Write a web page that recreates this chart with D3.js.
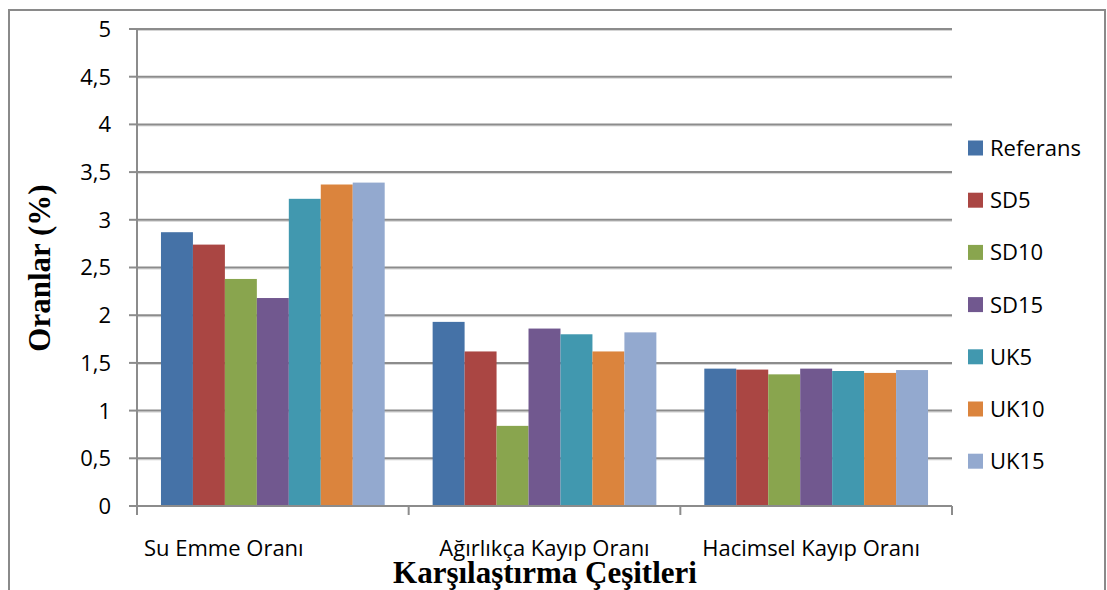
<!DOCTYPE html>
<html>
<head>
<meta charset="utf-8">
<script src="https://cdn.jsdelivr.net/npm/d3@7"></script>
<style>
  body { margin: 0; background: #fff; }
  svg { display: block; }
  .tick-label, .cat-label, .legend-label { font-family: "Open Sans", "Noto Sans", sans-serif; font-size: 22px; fill: #000; }
  .axis-title { font-family: "Liberation Serif", "DejaVu Serif", serif; font-weight: bold; font-size: 31px; fill: #000; }
</style>
</head>
<body>
<div id="chart"></div>
<script>
// Categories and series
const categories = ['Su Emme Oranı', 'Ağırlıkça Kayıp Oranı', 'Hacimsel Kayıp Oranı'];
const seriesNames = ['Referans', 'SD5', 'SD10', 'SD15', 'UK5', 'UK10', 'UK15'];
const referans = [2.87, 1.93, 1.44];
const sd5 = [2.74, 1.62, 1.43];
const sd10 = [2.38, 0.84, 1.38];
const sd15 = [2.18, 1.86, 1.44];
const uk5 = [3.22, 1.80, 1.415];
const uk10 = [3.37, 1.62, 1.395];
const uk15 = [3.39, 1.82, 1.425];
const yTicks = [0, 0.5, 1, 1.5, 2, 2.5, 3, 3.5, 4, 4.5, 5];
const yTickLabels = ['0', '0,5', '1', '1,5', '2', '2,5', '3', '3,5', '4', '4,5', '5'];

const seriesValues = [referans, sd5, sd10, sd15, uk5, uk10, uk15];
const colors = ['#4572A7', '#AA4643', '#89A54E', '#71588F', '#4198AF', '#DB843D', '#93A9CF'];

const width = 1107, height = 590;
const margin = {top: 29, right: 155, bottom: 84, left: 137};

const svg = d3.select('#chart').append('svg')
    .attr('width', width)
    .attr('height', height);

// outer chart border
svg.append('rect')
    .attr('x', 9).attr('y', 10)
    .attr('width', 1096).attr('height', 600)
    .attr('fill', 'none')
    .attr('stroke', '#8a8a8a')
    .attr('stroke-width', 2);

const plotW = width - margin.left - margin.right;
const plotH = height - margin.top - margin.bottom;

const chart = svg.append('g')
    .attr('transform', `translate(${margin.left},${margin.top})`);

const x0 = d3.scaleBand().domain(categories).range([0, plotW]).padding(0);
// Excel gap width 150% => outer padding per side = 0.75 bar width
const x1 = d3.scaleBand().domain(seriesNames).range([0, x0.bandwidth()]).paddingInner(0).paddingOuter(0.75);
const y = d3.scaleLinear().domain([0, 5]).range([plotH, 0]);

// gridlines with a soft shadow
const grid = chart.append('g');
yTicks.filter(t => t > 0).forEach(t => {
  grid.append('line')
      .attr('x1', 0).attr('x2', plotW)
      .attr('y1', y(t) + 1.5).attr('y2', y(t) + 1.5)
      .attr('stroke', '#d4d4d4').attr('stroke-width', 1);
  grid.append('line')
      .attr('x1', 0).attr('x2', plotW)
      .attr('y1', y(t)).attr('y2', y(t))
      .attr('stroke', '#8c8c8c').attr('stroke-width', 2);
});

// bars
const groups = chart.selectAll('.group')
    .data(categories)
  .join('g')
    .attr('class', 'group')
    .attr('transform', d => `translate(${x0(d)},0)`);

groups.selectAll('rect')
    .data((d, ci) => seriesNames.map((s, si) => ({s, si, v: seriesValues[si][ci]})))
  .join('rect')
    .attr('x', d => x1(d.s))
    .attr('width', x1.bandwidth())
    .attr('y', d => y(d.v))
    .attr('height', d => y(0) - y(d.v))
    .attr('fill', d => colors[d.si]);

// y axis line + ticks
chart.append('line')
    .attr('x1', 0).attr('x2', 0)
    .attr('y1', 0).attr('y2', plotH)
    .attr('stroke', '#8c8c8c').attr('stroke-width', 2);

chart.selectAll('.ytick')
    .data(yTicks)
  .join('line')
    .attr('class', 'ytick')
    .attr('x1', -8).attr('x2', 0)
    .attr('y1', d => y(d)).attr('y2', d => y(d))
    .attr('stroke', '#8c8c8c').attr('stroke-width', 2);

chart.selectAll('.tick-label')
    .data(yTicks)
  .join('text')
    .attr('class', 'tick-label')
    .attr('x', -26)
    .attr('y', d => y(d))
    .attr('dy', '0.36em')
    .attr('text-anchor', 'end')
    .text((d, i) => yTickLabels[i]);

// x axis line + ticks
chart.append('line')
    .attr('x1', 0).attr('x2', plotW)
    .attr('y1', plotH).attr('y2', plotH)
    .attr('stroke', '#8c8c8c').attr('stroke-width', 2);

const bounds = categories.map(c => x0(c)).concat([plotW]);
chart.selectAll('.xtick')
    .data(bounds)
  .join('line')
    .attr('class', 'xtick')
    .attr('x1', d => d).attr('x2', d => d)
    .attr('y1', plotH).attr('y2', plotH + 9)
    .attr('stroke', '#8c8c8c').attr('stroke-width', 2);

// category labels (first one sits left of centre in the original)
const labelShift = [-49, 0, -5];
chart.selectAll('.cat-label')
    .data(categories)
  .join('text')
    .attr('class', 'cat-label')
    .attr('x', (d, i) => x0(d) + x0.bandwidth() / 2 + labelShift[i])
    .attr('y', plotH + 50)
    .attr('text-anchor', 'middle')
    .text(d => d);

// axis titles
svg.append('text')
    .attr('class', 'axis-title')
    .attr('text-anchor', 'middle')
    .attr('x', 545)
    .attr('y', 583)
    .text('Karşılaştırma Çeşitleri');

svg.append('text')
    .attr('class', 'axis-title')
    .attr('text-anchor', 'middle')
    .attr('transform', 'translate(50,268) rotate(-90)')
    .text('Oranlar (%)');

// legend
const legend = svg.append('g')
    .attr('transform', 'translate(968,148)');

const item = legend.selectAll('.legend-item')
    .data(seriesNames)
  .join('g')
    .attr('class', 'legend-item')
    .attr('transform', (d, i) => `translate(0,${i * 52.2})`);

item.append('rect')
    .attr('x', 0).attr('y', -7.5)
    .attr('width', 15).attr('height', 15)
    .attr('fill', (d, i) => colors[i]);

item.append('text')
    .attr('class', 'legend-label')
    .attr('x', 22)
    .attr('dy', '0.36em')
    .text(d => d);
</script>
</body>
</html>
